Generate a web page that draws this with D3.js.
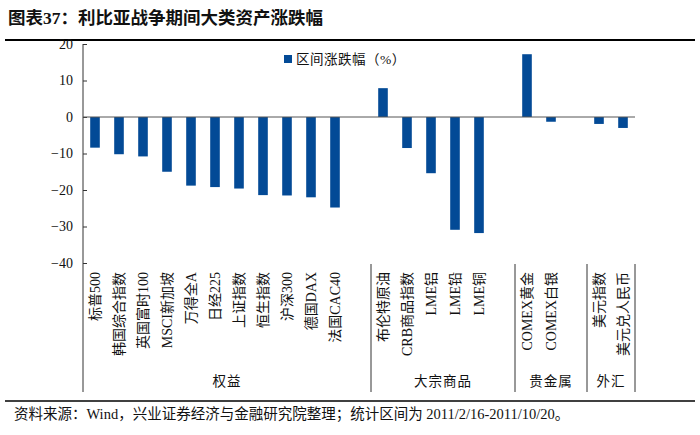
<!DOCTYPE html>
<html>
<head>
<meta charset="utf-8">
<script src="https://cdn.jsdelivr.net/npm/d3@7"></script>
<style>
  body { margin: 0; background: #fff; }
  text { font-family: "Liberation Serif", "Noto Sans CJK SC", serif; fill: #111; }
</style>
</head>
<body>
<div class="chart"></div>
<script>
"use strict";
const categories = ["标普500", "韩国综合指数", "英国富时100", "MSCI新加坡", "万得全A", "日经225",
    "上证指数", "恒生指数", "沪深300", "德国DAX", "法国CAC40",
    "布伦特原油", "CRB商品指数", "LME铝", "LME铅", "LME铜",
    "COMEX黄金", "COMEX白银", "美元指数", "美元兑人民币"];
const values = [-8.4, -10.2, -10.8, -15.0, -18.8, -19.2, -19.6, -21.4, -21.5, -22.0, -24.8,
    7.9, -8.5, -15.4, -30.9, -31.8, 17.2, -1.3, -1.9, -3.0];
const groups = ["权益", "大宗商品", "贵金属", "外汇"];
const groupSizes = [11, 5, 2, 2];
const yTicks = [20, 10, 0, -10, -20, -30, -40];

const W = 700, H = 435;
const margin = {left: 83, top: 44, bottom: 263};

// slots: each group followed by one empty slot, except the last
let slots = [];
let bounds = [];
let k = 0;
groups.forEach(function(g, gi){
    let start = slots.length;
    for (let i = 0; i < groupSizes[gi]; i++, k++) {
        slots.push({key: "c" + k, name: categories[k], value: values[k]});
    }
    if (gi < groups.length - 1) slots.push({key: "gap" + gi, name: null, value: null});
    bounds.push({name: g, start: start, end: slots.length});
});

const x = d3.scaleBand()
    .domain(slots.map(d => d.key))
    .range([margin.left, margin.left + 24 * slots.length])
    .paddingInner(0.6).paddingOuter(0.3);
const step = x.step();
const x0 = margin.left;
const slotX = i => x0 + i * step;

const y = d3.scaleLinear().domain([-40, 20]).range([margin.bottom, margin.top]);

const svg = d3.select(".chart").append("svg")
    .attr("width", W).attr("height", H);

// title
svg.append("text").attr("x", 8).attr("y", 24)
    .style("font-size", "17.5px").style("font-weight", "bold")
    .text("图表37：利比亚战争期间大类资产涨跌幅");
svg.append("line").attr("x1", 5).attr("x2", 695).attr("y1", 40).attr("y2", 40)
    .attr("stroke", "#000").attr("stroke-width", 2);

// y axis
const yAxis = d3.axisLeft(y).tickValues(yTicks).tickSize(-4).tickPadding(10);
const gy = svg.append("g").attr("transform", "translate(" + margin.left + ",0)").call(yAxis);
gy.select(".domain").remove();
gy.selectAll(".tick line").attr("stroke", "#333");
gy.selectAll(".tick text").style("font-size", "14px")
    .style("font-family", "'Liberation Serif', serif").attr("fill", "#111");
svg.append("line").attr("x1", margin.left).attr("x2", margin.left)
    .attr("y1", margin.top).attr("y2", 392).attr("stroke", "#333");

// bars
svg.append("g").selectAll("rect")
    .data(slots.filter(d => d.name !== null))
    .join("rect")
    .attr("x", d => x(d.key))
    .attr("width", x.bandwidth())
    .attr("y", d => y(Math.max(0, d.value)))
    .attr("height", d => Math.abs(y(d.value) - y(0)))
    .attr("fill", "#034a96");

// zero line
svg.append("line").attr("x1", margin.left).attr("x2", slotX(slots.length))
    .attr("y1", y(0)).attr("y2", y(0)).attr("stroke", "#555").attr("stroke-width", 1);

// category labels
svg.append("g").selectAll("text")
    .data(slots.filter(d => d.name !== null))
    .join("text")
    .attr("transform", d => "translate(" + (x(d.key) + x.bandwidth() / 2 + 5) + ",272) rotate(-90)")
    .attr("text-anchor", "end")
    .style("font-size", "14px")
    .text(d => d.name);

// group separators and names
bounds.forEach(function(b){
    let xe = slotX(b.end);
    svg.append("line").attr("x1", xe).attr("x2", xe).attr("y1", 264).attr("y2", 392)
        .attr("stroke", "#333");
    svg.append("text").attr("x", (slotX(b.start) + xe) / 2).attr("y", 386)
        .attr("text-anchor", "middle").style("font-size", "13.5px").style("letter-spacing", "1px")
        .text(b.name);
});

// legend
svg.append("rect").attr("x", 284).attr("y", 55).attr("width", 8).attr("height", 8).attr("fill", "#034a96");
svg.append("text").attr("x", 296).attr("y", 64).style("font-size", "13.5px").style("letter-spacing", "0.5px")
    .text("区间涨跌幅（%）");

// footer
svg.append("line").attr("x1", 5).attr("x2", 695).attr("y1", 401).attr("y2", 401)
    .attr("stroke", "#000").attr("stroke-width", 1.5);
svg.append("text").attr("x", 14).attr("y", 419).style("font-size", "14.5px")
    .text("资料来源：Wind，兴业证券经济与金融研究院整理；统计区间为 2011/2/16-2011/10/20。");
</script>
</body>
</html>
